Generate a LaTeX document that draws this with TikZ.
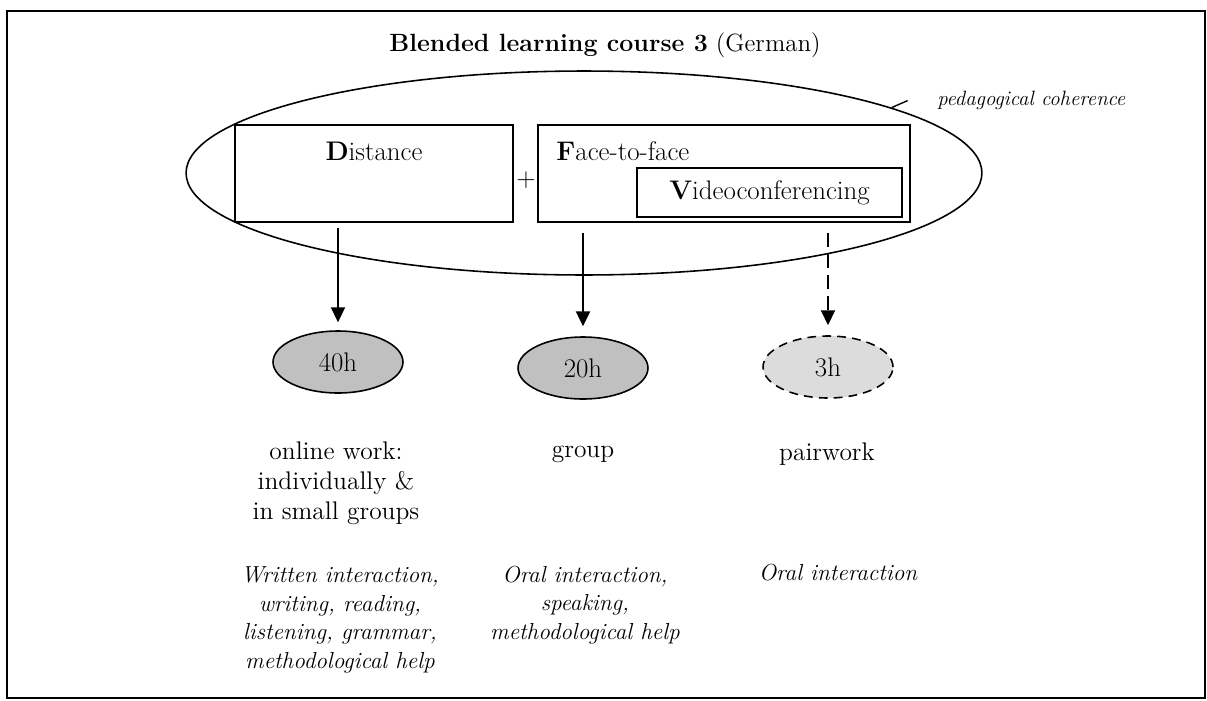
\documentclass[tikz,border=0pt]{standalone}
\usepackage{tikz}
\usetikzlibrary{shapes.geometric,arrows.meta}
\definecolor{hourfill}{HTML}{C0C0C0}
\definecolor{lightfill}{HTML}{DCDCDC}

\begin{document}
\begin{tikzpicture}[
    x=0.02cm, y=-0.02cm,
    box/.style={rectangle, draw, line width=1pt, inner sep=0pt},
    hour/.style={ellipse, draw, line width=0.9pt, minimum width=2.6cm, minimum height=1.24cm, inner sep=0pt, fill=hourfill, font=\fontsize{15.3}{17}\selectfont},
    txt/.style={align=center, font=\fontsize{14.5}{17}\selectfont, inner sep=0pt},
    boxtxt/.style={txt, font=\fontsize{15.3}{17}\selectfont},
    note/.style={align=center, font=\fontsize{13.2}{16.2}\selectfont\itshape, inner sep=0pt},
    arrow/.style={-{Triangle[length=8.5pt,width=8pt]}, line width=0.8pt}
]
\useasboundingbox (0,0) rectangle (1207,700);

% Frame
\draw[line width=1.3pt] (7,11) rectangle (1205,698);

% Title
\node[txt, font=\fontsize{14.2}{17}\selectfont] (title) at (605,45) {\textbf{Blended learning course 3} (German)};

% Coherence ellipse
\node[ellipse, draw, line width=0.9pt, minimum width=15.92cm, minimum height=4.08cm] (coh) at (584,173) {};
\node[note, font=\fontsize{11.8}{13}\selectfont\itshape, anchor=west] (ped) at (937,100) {pedagogical coherence};
\draw[line width=0.8pt] (coh.12) -- ++(16,-7);

% Distance and face-to-face
\node[box, minimum width=5.56cm, minimum height=1.94cm,
      label={[boxtxt, anchor=north, yshift=-10pt]north:{\textbf{D}istance}}] (dist) at (374,173.5) {};
\node[box, minimum width=7.44cm, minimum height=1.94cm,
      label={[boxtxt, anchor=north west, xshift=10.8pt, yshift=-10pt]north west:{\textbf{F}ace-to-face}}] (face) at (724,173.5) {};
\node[box, boxtxt, minimum width=5.3cm, minimum height=0.98cm] (video) at (769.5,192.5) {\textbf{V}ideoconferencing};
\node[txt] (plus) at (526,180) {+};

% Hours
\node[hour] (h40) at (338,362) {40h};
\node[hour] (h20) at (583,368) {20h};
\node[hour, fill=lightfill, dash pattern=on 5pt off 3.5pt] (h3) at (828,367) {3h};

% Arrows
\draw[arrow, shorten <=2.8pt, shorten >=4.5pt] (h40 |- dist.south) -- (h40.north);
\draw[arrow, line width=1.3pt, shorten <=5.7pt, shorten >=5.7pt] (h20 |- face.south) -- (h20.north);
\draw[arrow, line width=1.1pt, dash pattern=on 8pt off 4pt, shorten <=5.7pt, shorten >=5.7pt] (h3 |- face.south) -- (h3.north);

% Work forms
\node[txt] (online) at (336,483) {online work:\\individually \&\\in small groups};
\node[txt] (group) at (583,454) {group};
\node[txt] (pair) at (827,454) {pairwork};

% Skills
\node[note] (skills1) at (340,620) {Written interaction,\\writing, reading,\\listening, grammar,\\methodological help};
\node[note] (skills2) at (585,605) {Oral interaction,\\speaking,\\methodological help};
\node[note] (skills3) at (838,573) {Oral interaction};

\end{tikzpicture}
\end{document}
